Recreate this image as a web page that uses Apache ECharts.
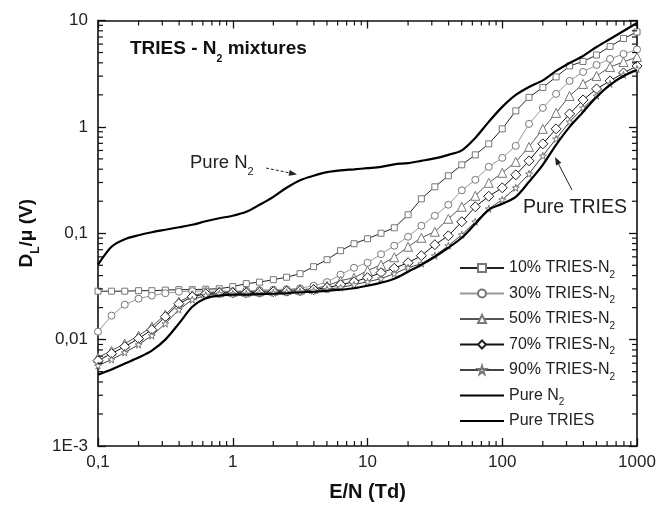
<!DOCTYPE html>
<html><head><meta charset="utf-8">
<script src="https://cdn.jsdelivr.net/npm/echarts@6/dist/echarts.min.js"></script>
<style>html,body{margin:0;padding:0;background:#fff}#c{width:659px;height:507px}</style>
</head><body><div id="c"></div>
<script>
// E/N (Td) sample points
const xValues = [0.1,0.126,0.158,0.2,0.251,0.316,0.398,0.501,0.631,0.794,1,1.26,1.58,2,2.51,3.16,3.98,5.01,6.31,7.94,10,12.6,15.8,20,25.1,31.6,39.8,50.1,63.1,79.4,100,126,158,200,251,316,398,501,631,794,1000];
// D_L/mu (V)
const pureN2 = [0.0506,0.0747,0.0879,0.0958,0.1022,0.1079,0.1138,0.1202,0.1297,0.1383,0.146,0.159,0.185,0.220,0.2675,0.315,0.3467,0.375,0.390,0.399,0.4095,0.421,0.4445,0.456,0.4795,0.506,0.546,0.6017,0.788,1.114,1.541,1.998,2.375,2.733,3.356,3.990,4.642,5.640,6.703,7.969,9.474];
const pureTRIES = [0.00469,0.00523,0.00595,0.00678,0.00788,0.0100,0.01413,0.0204,0.0245,0.0259,0.02646,0.02646,0.02675,0.0270,0.0273,0.0279,0.0282,0.02885,0.0295,0.0304,0.0321,0.0343,0.0374,0.0435,0.0506,0.0602,0.0731,0.0907,0.1228,0.1662,0.1892,0.2202,0.3045,0.4398,0.678,1.0,1.383,1.913,2.48,3.012,3.429];
const tries10 = [0.02854,0.02854,0.02854,0.02885,0.02885,0.0292,0.0295,0.0295,0.0298,0.0301,0.0315,0.0336,0.0347,0.0366,0.0386,0.0417,0.0485,0.0564,0.0685,0.0797,0.0888,0.1,0.1126,0.1492,0.2109,0.2733,0.3467,0.4398,0.546,0.6925,0.958,1.413,1.892,2.349,2.948,3.739,4.121,4.742,5.702,6.776,7.798];
const tries30 = [0.01189,0.0168,0.0213,0.02427,0.0259,0.0273,0.0282,0.02854,0.02854,0.02854,0.02854,0.02885,0.0292,0.0295,0.0298,0.0304,0.0321,0.0347,0.0408,0.0474,0.0528,0.0635,0.0763,0.0927,0.1176,0.146,0.1852,0.2534,0.318,0.421,0.5116,0.663,1.067,1.508,2.041,2.704,3.284,3.821,4.350,4.847,5.343];
const tries50 = [0.00678,0.00788,0.00917,0.0109,0.01325,0.01717,0.02274,0.0262,0.0273,0.0279,0.0282,0.0282,0.02854,0.02885,0.0292,0.0295,0.0301,0.0321,0.0358,0.0382,0.0445,0.0506,0.0595,0.0747,0.0907,0.1033,0.1368,0.1774,0.225,0.298,0.370,0.4692,0.649,0.958,1.354,1.955,2.534,3.012,3.659,4.077,4.543];
const tries70 = [0.00635,0.00739,0.0086,0.01022,0.01241,0.01644,0.02178,0.0253,0.0270,0.0276,0.0276,0.0276,0.0279,0.0282,0.02854,0.02885,0.0295,0.0308,0.0328,0.0350,0.0382,0.0426,0.0469,0.0528,0.0615,0.0780,0.0947,0.1282,0.1774,0.2226,0.2675,0.3542,0.4795,0.6925,0.958,1.325,1.792,2.274,2.704,3.214,3.739];
const tries90 = [0.0057,0.00649,0.00755,0.00898,0.0109,0.01413,0.01913,0.02375,0.0262,0.0270,0.0270,0.0270,0.0273,0.0276,0.0279,0.0282,0.02885,0.0298,0.0308,0.0328,0.0350,0.0374,0.0417,0.0474,0.0517,0.0615,0.0763,0.0968,0.1282,0.1698,0.2064,0.2675,0.362,0.534,0.772,1.114,1.508,1.955,2.534,3.078,3.504];
const seriesNames = ['10% TRIES-N2','30% TRIES-N2','50% TRIES-N2','70% TRIES-N2','90% TRIES-N2','Pure N2','Pure TRIES'];
const xTickLabels = ['0,1','1','10','100','1000'];
const yTickLabels = ['1E-3','0,01','0,1','1','10'];
const xMinorTicks = [0.2,0.3,0.4,0.5,0.6,0.7,0.8,0.9,2,3,4,5,6,7,8,9,20,30,40,50,60,70,80,90,200,300,400,500,600,700,800,900];
const yMinorTicks = [0.002,0.003,0.004,0.005,0.006,0.007,0.008,0.009,0.02,0.03,0.04,0.05,0.06,0.07,0.08,0.09,0.2,0.3,0.4,0.5,0.6,0.7,0.8,0.9,2,3,4,5,6,7,8,9];

const FONT = 'Liberation Sans, Arial, sans-serif';
const pair = arr => xValues.map((x, i) => [x, arr[i]]);
const subName = n => n.replace(/N2$/, 'N{sub|2}');
// subscript rich style: F main size, f sub size, drop = baseline drop in px
function subStyle(F, f, drop, extra) {
  const pad = 2 * (0.35 * F + drop - 0.35 * f);
  return Object.assign({fontSize: f, fontFamily: FONT, verticalAlign: 'bottom', lineHeight: f, padding: [pad, 0, 0, 0]}, extra || {});
}
function subLine(F, f, drop) { return 2 * (0.35 * F + drop - 0.35 * f) + f; }
const star = 'path://M50,0 L61,35 L98,35 L68,57 L79,91 L50,70 L21,91 L32,57 L2,35 L39,35 Z';

function mix(name, data, symbol, size, lineColor, markColor) {
  return {
    name, type: 'line', data: pair(data), symbol, symbolSize: size,
    showSymbol: true, xAxisIndex: 0, yAxisIndex: 0,
    lineStyle: {color: lineColor, width: 1},
    itemStyle: {color: '#fff', borderColor: markColor, borderWidth: 1},
    z: 3
  };
}
function minorRender(isX) {
  return function (params, api) {
    const cs = params.coordSys;
    const v = api.value(isX ? 0 : 1);
    const len = 5;
    const st = {stroke: '#111', lineWidth: 1.2};
    if (isX) {
      const x = api.coord([v, 1])[0];
      return {type: 'group', children: [
        {type: 'line', shape: {x1: x, y1: cs.y + cs.height, x2: x, y2: cs.y + cs.height - len}, style: st},
        {type: 'line', shape: {x1: x, y1: cs.y, x2: x, y2: cs.y + len}, style: st}
      ]};
    }
    const y = api.coord([1, v])[1];
    return {type: 'group', children: [
      {type: 'line', shape: {x1: cs.x, y1: y, x2: cs.x + len, y2: y}, style: st},
      {type: 'line', shape: {x1: cs.x + cs.width, y1: y, x2: cs.x + cs.width - len, y2: y}, style: st}
    ]};
  };
}

const axisCommon = {
  type: 'log', logBase: 10, splitLine: {show: false},
  axisLine: {show: true, onZero: false, lineStyle: {color: '#111', width: 1.6}},
  axisTick: {show: true, inside: true, length: 8, lineStyle: {color: '#111', width: 1.3}}
};
const legendLH = subLine(16, 10, 5);
const titleLH = subLine(19, 10.5, 8);
const n2LH = subLine(18.5, 11, 6.5);
const yNameLH = subLine(19, 12, 6);
const legendData = seriesNames.map((n, i) => i < 5 ? {name: n} :
  {name: n, itemStyle: {color: 'rgba(0,0,0,0)', borderColor: 'rgba(0,0,0,0)', borderWidth: 0}});

const chart = echarts.init(document.getElementById('c'), null, {renderer: 'canvas'});
chart.setOption({
  animation: false,
  backgroundColor: '#fff',
  grid: {left: 98, right: 22, top: 20.5, bottom: 60.5},
  xAxis: [
    Object.assign({}, axisCommon, {position: 'bottom', min: 0.1, max: 1000,
      axisLabel: {color: '#222', fontSize: 17, fontFamily: FONT, margin: 8,
        formatter: v => xTickLabels[Math.round(Math.log10(v)) + 1] || ''},
      name: 'E/N (Td)', nameLocation: 'middle', nameGap: 36,
      nameTextStyle: {fontSize: 20, fontWeight: 'bold', fontFamily: FONT, color: '#111'}}),
    Object.assign({}, axisCommon, {position: 'top', min: 0.1, max: 1000, axisLabel: {show: false}})
  ],
  yAxis: [
    Object.assign({}, axisCommon, {position: 'left', min: 0.001, max: 10,
      axisLabel: {color: '#222', fontSize: 17, fontFamily: FONT, margin: 10,
        formatter: v => yTickLabels[Math.round(Math.log10(v)) + 3] || ''},
      name: 'D{sub|L}/μ (V)', nameLocation: 'middle', nameGap: 47, nameRotate: 90,
      nameTextStyle: {fontSize: 19, fontWeight: 'bold', fontFamily: FONT, color: '#111', lineHeight: yNameLH,
        rich: {sub: subStyle(19, 12, 6, {fontWeight: 'bold', color: '#111'})}}}),
    Object.assign({}, axisCommon, {position: 'right', min: 0.001, max: 10, axisLabel: {show: false}})
  ],
  legend: {
    orient: 'vertical', left: 454, top: 268 - 5 - legendLH / 2, itemWidth: 44, itemHeight: 10,
    itemGap: 25.5 - legendLH, padding: 5,
    data: legendData,
    formatter: subName,
    textStyle: {fontSize: 16, fontFamily: FONT, color: '#222', lineHeight: legendLH,
      rich: {sub: subStyle(16, 10, 5, {color: '#222'})}}
  },
  graphic: [
    {type: 'text', left: 130, top: 48.3 - titleLH / 2, style: {text: 'TRIES - N{sub|2} mixtures', font: 'bold 19px ' + FONT, fill: '#111', lineHeight: titleLH,
      rich: {sub: subStyle(19, 10.5, 8, {fontWeight: 'bold', fill: '#111'})}}},
    {type: 'text', left: 190, top: 163.3 - n2LH / 2, style: {text: 'Pure N{sub|2}', font: '18.5px ' + FONT, fill: '#222', lineHeight: n2LH,
      rich: {sub: subStyle(18.5, 11, 6.5, {fill: '#222'})}}},
    {type: 'line', shape: {x1: 266, y1: 168, x2: 290, y2: 173}, style: {stroke: '#222', lineWidth: 1, lineDash: [3, 2]}},
    {type: 'polygon', shape: {points: [[297, 174.5], [288.6, 175.8], [289.8, 170]]}, style: {fill: '#222'}},
    {type: 'text', left: 523, top: 197.5, style: {text: 'Pure TRIES', font: '19.5px ' + FONT, fill: '#222'}},
    {type: 'line', shape: {x1: 572, y1: 190, x2: 558, y2: 163}, style: {stroke: '#222', lineWidth: 1}},
    {type: 'polygon', shape: {points: [[555, 157], [561.3, 162.7], [556, 165.5]]}, style: {fill: '#222'}}
  ],
  series: [
    mix(seriesNames[0], tries10, 'rect', 6, '#222', '#777'),
    mix(seriesNames[1], tries30, 'circle', 7, '#999', '#777'),
    mix(seriesNames[2], tries50, 'triangle', 9, '#555', '#777'),
    mix(seriesNames[3], tries70, 'diamond', 10, '#111', '#222'),
    mix(seriesNames[4], tries90, star, 7, '#444', '#777'),
    {name: seriesNames[5], type: 'line', data: pair(pureN2), symbol: 'none', smooth: 0.3,
      lineStyle: {color: '#000', width: 2.2}, itemStyle: {color: '#000'}, z: 4},
    {name: seriesNames[6], type: 'line', data: pair(pureTRIES), symbol: 'none', smooth: 0.3,
      lineStyle: {color: '#000', width: 2.2}, itemStyle: {color: '#000'}, z: 4},
    {type: 'custom', data: xMinorTicks.map(v => [v, 1]), renderItem: minorRender(true), silent: true, clip: false, z: 5},
    {type: 'custom', data: yMinorTicks.map(v => [1, v]), renderItem: minorRender(false), silent: true, clip: false, z: 5}
  ]
});
</script></body></html>
